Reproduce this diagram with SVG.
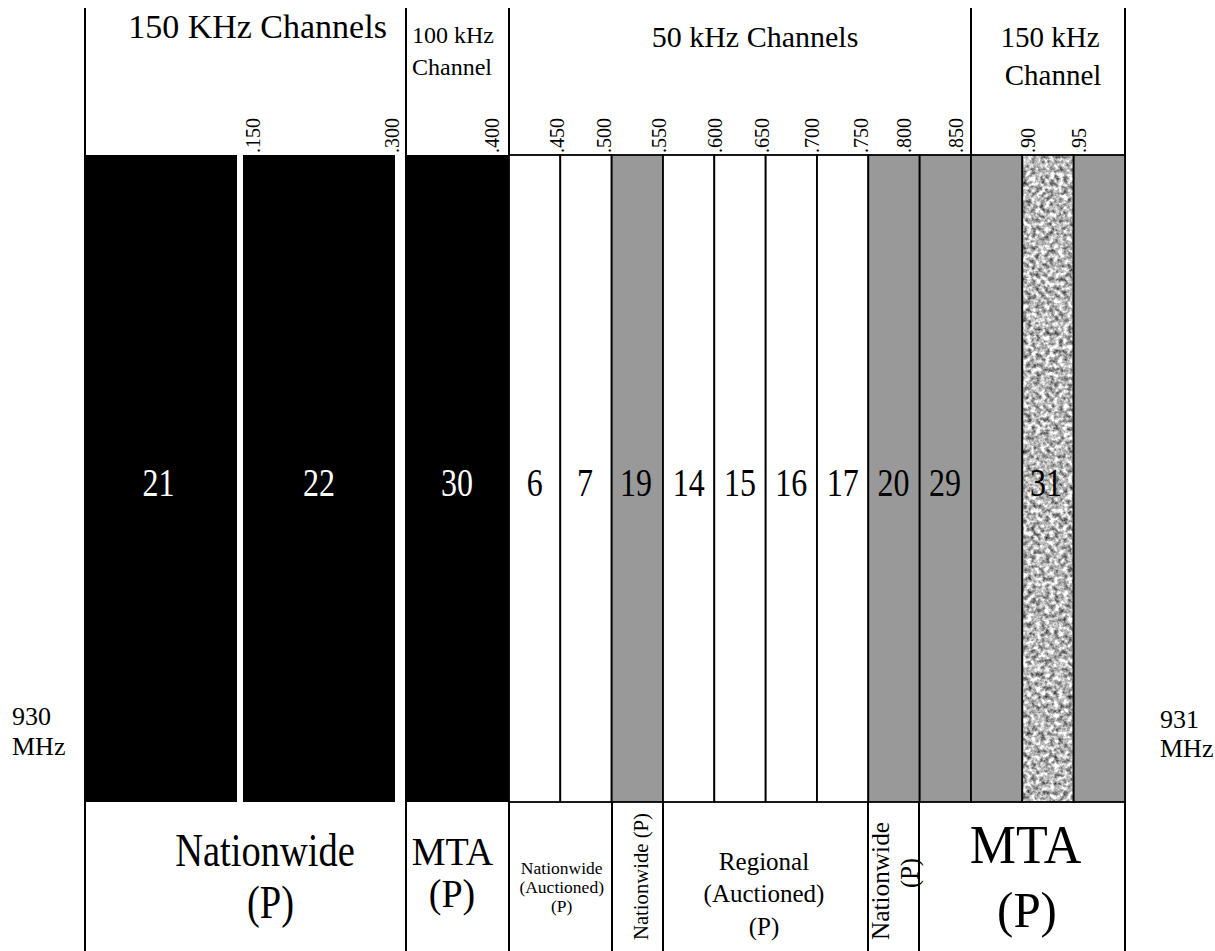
<svg xmlns="http://www.w3.org/2000/svg" width="1215" height="951" viewBox="0 0 1215 951">
<style>
text{font-family:"Liberation Serif","Times New Roman",serif;fill:#000}
.line{stroke:#000;stroke-width:2;fill:none}
.col{stroke:#000;stroke-width:1.8}
.w{fill:#fff}
.g{fill:#999}
.b{fill:#000}
.num{font-size:32px;text-anchor:middle}
.wt{fill:#fff}
.tick{font-size:20px}
.mid{text-anchor:middle}
</style>
<defs>
<filter id="noise" x="0" y="0" width="100%" height="100%" color-interpolation-filters="sRGB">
<feTurbulence type="fractalNoise" baseFrequency="0.22" numOctaves="3" seed="7" result="t"/>
<feColorMatrix in="t" type="matrix" values="1.4 0 0 0 0.02  1.4 0 0 0 0.02  1.4 0 0 0 0.02  0 0 0 0 1"/>
</filter>
</defs>

<g id="connectors">
<line class="line" x1="85" y1="8" x2="85" y2="951"/>
<line class="line" x1="406" y1="8" x2="406" y2="951"/>
<line class="line" x1="509" y1="8" x2="509" y2="155"/>
<line class="line" x1="971" y1="8" x2="971" y2="155"/>
<line class="line" x1="1125" y1="8" x2="1125" y2="951"/>
<line class="line" x1="509" y1="802" x2="509" y2="951"/>
<line class="line" x1="612" y1="802" x2="612" y2="951"/>
<line class="line" x1="663" y1="802" x2="663" y2="951"/>
<line class="line" x1="868" y1="802" x2="868" y2="951"/>
<line class="line" x1="919" y1="802" x2="919" y2="951"/>
</g>

<g id="header">
<text x="257.5" y="38" font-size="34" class="mid">150 KHz Channels</text>
<text x="412" y="43" font-size="24">100 kHz</text>
<text x="412" y="75" font-size="24">Channel</text>
<text x="755" y="47" font-size="30" class="mid">50 kHz Channels</text>
<text x="1050" y="47" font-size="29" class="mid">150 kHz</text>
<text x="1053" y="85" font-size="29" class="mid">Channel</text>
</g>

<g id="ticks" class="tick">
<text transform="translate(260,153) rotate(-90)">.150</text>
<text transform="translate(399,153) rotate(-90)">.300</text>
<text transform="translate(499,153) rotate(-90)">.400</text>
<text transform="translate(564,153) rotate(-90)">.450</text>
<text transform="translate(611,153) rotate(-90)">.500</text>
<text transform="translate(666,153) rotate(-90)">.550</text>
<text transform="translate(722,153) rotate(-90)">.600</text>
<text transform="translate(769,153) rotate(-90)">.650</text>
<text transform="translate(819,153) rotate(-90)">.700</text>
<text transform="translate(868,153) rotate(-90)">.750</text>
<text transform="translate(911,153) rotate(-90)">.800</text>
<text transform="translate(963,153) rotate(-90)">.850</text>
<text transform="translate(1035,153) rotate(-90)">.90</text>
<text transform="translate(1086,153) rotate(-90)">.95</text>
</g>

<g id="ch21"><rect class="b" x="85" y="155" width="152" height="647"/><text class="num wt" transform="translate(158.5,496) scale(1,1.24)">21</text></g>
<g id="ch22"><rect class="b" x="243" y="155" width="152" height="647"/><text class="num wt" transform="translate(319,496) scale(1,1.24)">22</text></g>
<g id="ch30"><rect class="b" x="406" y="155" width="103" height="647"/><text class="num wt" transform="translate(457,496) scale(1,1.24)">30</text></g>
<g id="ch6"><rect class="col w" x="509" y="155" width="51.3" height="647"/><text class="num" transform="translate(534.7,496) scale(1,1.24)">6</text></g>
<g id="ch7"><rect class="col w" x="560.3" y="155" width="51.3" height="647"/><text class="num" transform="translate(585,496) scale(1,1.24)">7</text></g>
<g id="ch19"><rect class="col g" x="611.7" y="155" width="51.3" height="647"/><text class="num" transform="translate(636,496) scale(1,1.24)">19</text></g>
<g id="ch14"><rect class="col w" x="663" y="155" width="51.3" height="647"/><text class="num" transform="translate(688.7,496) scale(1,1.24)">14</text></g>
<g id="ch15"><rect class="col w" x="714.3" y="155" width="51.3" height="647"/><text class="num" transform="translate(740,496) scale(1,1.24)">15</text></g>
<g id="ch16"><rect class="col w" x="765.7" y="155" width="51.3" height="647"/><text class="num" transform="translate(791.3,496) scale(1,1.24)">16</text></g>
<g id="ch17"><rect class="col w" x="817" y="155" width="51.3" height="647"/><text class="num" transform="translate(842.7,496) scale(1,1.24)">17</text></g>
<g id="ch20"><rect class="col g" x="868.3" y="155" width="51.3" height="647"/><text class="num" transform="translate(893.5,496) scale(1,1.24)">20</text></g>
<g id="ch29"><rect class="col g" x="919.7" y="155" width="51.3" height="647"/><text class="num" transform="translate(945,496) scale(1,1.24)">29</text></g>
<g id="chA"><rect class="col g" x="971" y="155" width="51.3" height="647"/></g>
<g id="ch31"><rect x="1022.3" y="155" width="51.3" height="647" fill="#aaa" filter="url(#noise)"/><rect class="col" fill="none" x="1022.3" y="155" width="51.3" height="647"/><text class="num" transform="translate(1046,496) scale(1,1.24)">31</text></g>
<g id="chB"><rect class="col g" x="1073.7" y="155" width="51.3" height="647"/></g>

<g id="lbl-nationwide">
<text class="mid" font-size="38.5" transform="translate(265,866) scale(1,1.2)">Nationwide</text>
<text class="mid" font-size="38.5" transform="translate(270.5,918) scale(1,1.2)">(P)</text>
</g>
<g id="lbl-mta1">
<text class="mid" font-size="38" transform="translate(452.5,865) scale(1,1.07)">MTA</text>
<text class="mid" font-size="38" transform="translate(452,907) scale(1,1.07)">(P)</text>
</g>
<g id="lbl-nat-auc">
<text class="mid" font-size="17.5" x="561.7" y="874">Nationwide</text>
<text class="mid" font-size="17.5" x="561.7" y="893">(Auctioned)</text>
<text class="mid" font-size="17.5" x="561.7" y="912">(P)</text>
</g>
<g id="lbl-nat19">
<text font-size="20.7" transform="translate(648,940) rotate(-90)">Nationwide (P)</text>
</g>
<g id="lbl-regional">
<text class="mid" font-size="25" x="764" y="870">Regional</text>
<text class="mid" font-size="25" x="764" y="902">(Auctioned)</text>
<text class="mid" font-size="25" x="764" y="935">(P)</text>
</g>
<g id="lbl-nat20">
<text font-size="25.3" transform="translate(889,940) rotate(-90)">Nationwide</text>
<text font-size="24.5" transform="translate(918,888) rotate(-90)">(P)</text>
</g>
<g id="lbl-mta2">
<text class="mid" font-size="52" transform="translate(1025.5,863) scale(1,1.06)">MTA</text>
<text class="mid" font-size="49" transform="translate(1027,927) scale(1,1.04)">(P)</text>
</g>

<g id="lbl-930">
<text x="12" y="725" font-size="26">930</text>
<text x="12" y="755" font-size="26">MHz</text>
</g>
<g id="lbl-931">
<text x="1160" y="728" font-size="26">931</text>
<text x="1160" y="757" font-size="26">MHz</text>
</g>
</svg>
